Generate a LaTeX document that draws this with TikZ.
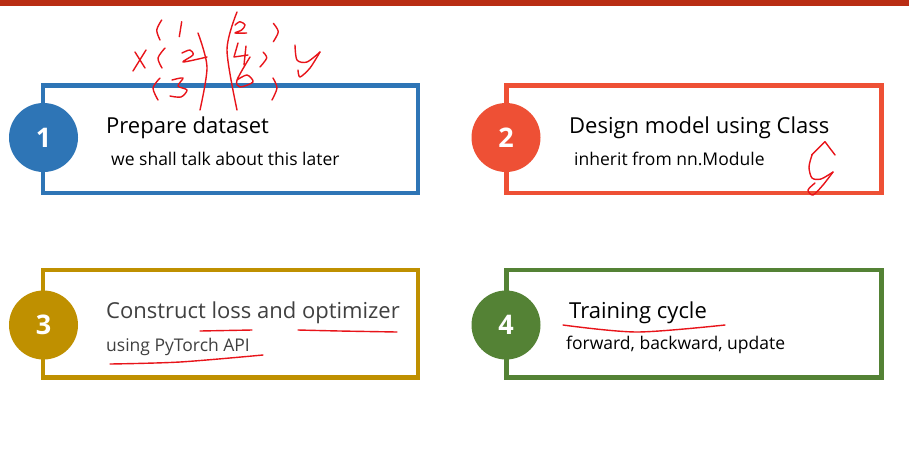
\documentclass[tikz,border=0pt]{standalone}
\usepackage{fontspec}
\setmainfont{Open Sans}
\definecolor{topbar}{HTML}{B92D14}
\definecolor{cblue}{HTML}{2E75B6}
\definecolor{cred}{HTML}{EE5035}
\definecolor{cgold}{HTML}{BF9000}
\definecolor{cgreen}{HTML}{548235}
\definecolor{ink}{HTML}{E8141A}
\definecolor{graytext}{HTML}{404040}
\begin{document}
\begin{tikzpicture}[x=1pt,y=-1pt,
  stepbox/.style={draw, line width=4.5pt, minimum width=375pt, minimum height=107.5pt, inner sep=0pt},
  numcircle/.style={circle, minimum size=69pt, inner sep=0pt, text=white, font=\bfseries\fontsize{27}{27}\selectfont},
  title/.style={anchor=base west, inner sep=0pt, font=\fontsize{22}{22}\selectfont},
  sub/.style={anchor=base west, inner sep=0pt, font=\fontsize{17.5}{17.5}\selectfont},
  hand/.style={ink, line width=1.4pt, line cap=round, line join=round}]
\useasboundingbox (0,0) rectangle (909,451);
\fill[white] (0,0) rectangle (909,451);
\fill[topbar] (0,0) rectangle (909,6);
% boxes
\node[stepbox, draw=cblue] (b1) at (230.5,139.25) {};
\node[stepbox, draw=cred] (b2) at (694,139.25) {};
\node[stepbox, draw=cgold] (b3) at (230.5,323.5) {};
\node[stepbox, draw=cgreen] (b4) at (694,323.5) {};
% circles
\node[numcircle, fill=cblue] (c1) at (43.5,137.5) {1};
\node[numcircle, fill=cred] (c2) at (506,137.5) {2};
\node[numcircle, fill=cgold] (c3) at (43.5,325) {3};
\node[numcircle, fill=cgreen] (c4) at (506,325) {4};
% texts
\node[title] (t1) at (106,133) {Prepare dataset};
\node[sub] (s1) at (111,165) {we shall talk about this later};
\node[title] (t2) at (569,133) {Design model using Class};
\node[sub] (s2) at (574,165) {inherit from nn.Module};
\node[title, text=graytext] (t3) at (106,318) {Construct loss and optimizer};
\node[sub, text=graytext] (s3) at (106,351) {using PyTorch API};
\node[title] (t4) at (569,318) {Training cycle};
\node[sub] (s4) at (566,349) {forward, backward, update};
% handwriting: x and y vectors
\draw[hand] (135,52) -- (145,68);
\draw[hand] (146,50) -- (133,71);
\draw[hand] plot[smooth] coordinates {(161.7,20) (156.7,30) (160,40)};
\draw[hand] (181.7,21.7) -- (179.3,36.7);
\draw[hand] plot[smooth] coordinates {(165,48) (158,58) (162,68)};
\draw[hand] plot[smooth] coordinates {(182,53) (190,50) (193,55) (183,62) (207,57)};
\draw[hand] plot[smooth] coordinates {(160,78) (153,88) (158,100)};
\draw[hand] plot[smooth] coordinates {(172,80) (183,78) (178,86) (187,90) (181,97) (170,96)};
\draw[hand] plot[smooth] coordinates {(198,33) (207,67) (200,110)};
\draw[hand] plot[smooth] coordinates {(237,12) (227,50) (237,110)};
\draw[hand] plot[smooth] coordinates {(235,25) (240,21.7) (245,25) (241.7,30) (235,33) (246.7,33)};
\draw[hand] plot[smooth] coordinates {(273.3,23.3) (278.3,31.7) (273.3,41.7)};
\draw[hand] (238,43) -- (234,57) -- (248,55);
\draw[hand] (246,46) -- (244,65);
\draw[hand] plot[smooth] coordinates {(263,52) (266.7,58) (260,67)};
\draw[hand] plot[smooth] coordinates {(250,57) (237,80) (240,87) (253,82) (247,75) (237,80)};
\draw[hand] plot[smooth] coordinates {(273,78) (277,88) (272,100)};
\draw[hand] plot[smooth] coordinates {(295,45) (297,60) (307,62) (320,52)};
\draw[hand] plot[smooth] coordinates {(320,52) (310,68) (300,77) (298,70)};
% y hat
\draw[hand] (811.7,155) -- (825,141.7) -- (835,155);
\draw[hand] plot[smooth] coordinates {(812,155) (809,167) (812,178) (821,179) (833,172)};
\draw[hand] plot[smooth] coordinates {(833,172) (823,185) (813,195) (808,190) (815,183)};
% underlines
\draw[hand] plot[smooth] coordinates {(200,331) (226,330.5) (252,330)};
\draw[hand] plot[smooth] coordinates {(298,330) (340,331) (397,332)};
\draw[hand] plot[smooth] coordinates {(110,364) (180,362) (263,355)};
\draw[hand] plot[smooth] coordinates {(563,325) (637,332) (725,325)};
\end{tikzpicture}
\end{document}
